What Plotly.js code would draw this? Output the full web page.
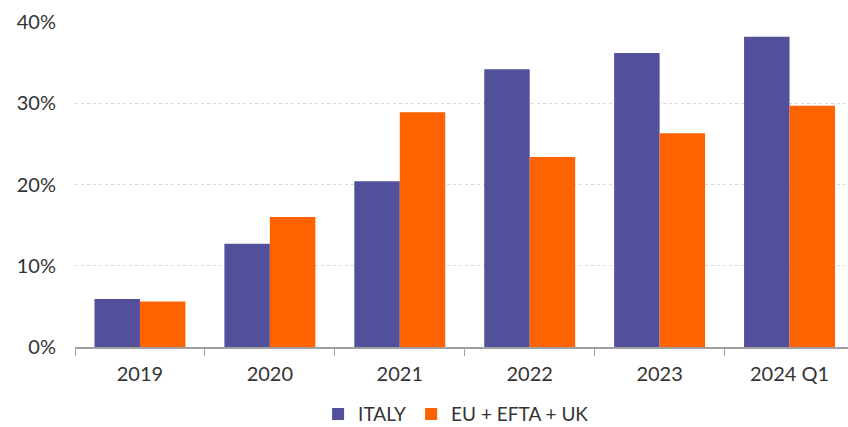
<!DOCTYPE html>
<html><head><meta charset="utf-8">
<script src="https://cdn.plot.ly/plotly-3.0.1.min.js"></script>
<style>html,body{margin:0;padding:0;background:#fff}#chart{width:848px;height:427px}</style>
</head><body><div id="chart"></div>
<script>
const categories = ["2019","2020","2021","2022","2023","2024 Q1"];
const italy = [5.9, 12.7, 20.4, 34.2, 36.2, 38.2];
const euEftaUk = [5.6, 16.0, 28.9, 23.4, 26.3, 29.7];
const yTicks = [0, 10, 20, 30, 40];
const yTickLabels = ["0%", "10%", "20%", "30%", "40%"];

const font = {family: "Lato, Noto Sans, sans-serif", size: 20, color: "#333333"};
const legendFont = {family: "Lato, Noto Sans, sans-serif", size: 19, color: "#333333"};
const traces = [
  {type: "bar", name: "ITALY", x: categories, y: italy, marker: {color: "#524f9b"}},
  {type: "bar", name: "EU + EFTA + UK", x: categories, y: euEftaUk, marker: {color: "#ff6200"}}
];
const layout = {
  width: 848, height: 427,
  margin: {l: 75, r: 0, t: 22, b: 80},
  barmode: "group", bargap: 0.3, bargroupgap: 0,
  paper_bgcolor: "#fff", plot_bgcolor: "#fff",
  font: font,
  xaxis: {type: "category", range: [-0.5, 5.45], showline: true, linecolor: "#a0a0a0", linewidth: 1.5,
    ticks: "outside", tickson: "boundaries", ticklen: 7, tickcolor: "#a0a0a0",
    showgrid: false, tickfont: font, ticklabelstandoff: 8, automargin: false},
  yaxis: {range: [0, 40], tickvals: yTicks, ticktext: yTickLabels, showline: false,
    gridcolor: "#d9d9d9", griddash: "dot", gridwidth: 1, zeroline: false,
    ticklabelstandoff: 18, tickfont: font, automargin: false},
  showlegend: true,
  legend: {orientation: "h", x: 0.493, xanchor: "center", yref: "container", y: 0.03, yanchor: "middle",
    font: legendFont, itemwidth: 20, traceorder: "normal", tracegroupgap: 0}
};
Plotly.newPlot("chart", traces, layout, {staticPlot: true});
</script></body></html>
